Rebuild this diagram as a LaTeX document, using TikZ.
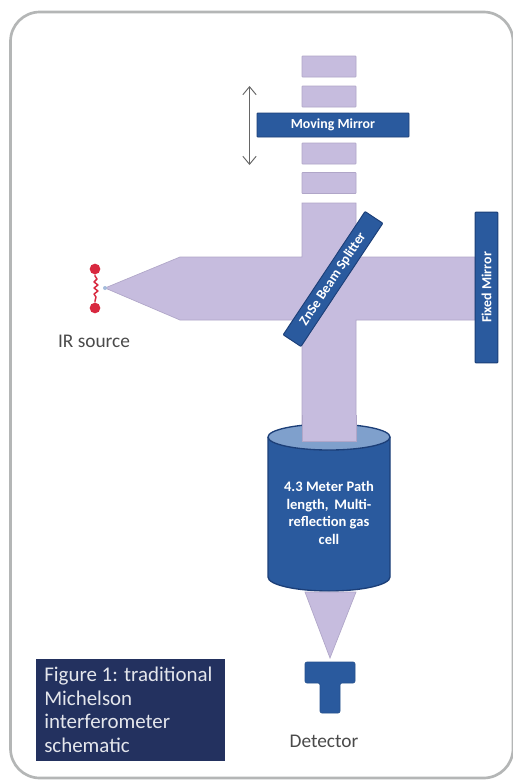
\documentclass[tikz,border=0pt]{standalone}
\usepackage{fontspec}
\setmainfont{Carlito}
\usetikzlibrary{arrows.meta,shapes.geometric}
\definecolor{beam}{HTML}{C6BCDE}
\definecolor{beamedge}{HTML}{B0A6C8}
\definecolor{mirror}{HTML}{2A5A9E}
\definecolor{mirroredge}{HTML}{1C3F78}
\definecolor{celltop}{HTML}{7FA0CC}
\definecolor{capbox}{HTML}{23315F}
\definecolor{frame}{HTML}{B4B6B6}
\definecolor{labeltext}{HTML}{4A4A4A}
\definecolor{srcred}{HTML}{D8283F}
\tikzset{
  x=0.75pt,y=-0.75pt,
  beamblock/.style={fill=beam,draw=beamedge,line width=0.6pt,minimum width=40.5pt,minimum height=15.75pt,inner sep=0pt,rounded corners=0.5pt},
  beamshape/.style={fill=beam,draw=beamedge,line width=0.5pt},
  bluebar/.style={fill=mirror,draw=mirroredge,line width=0.7pt,text=white,font=\bfseries\fontsize{10.4}{12}\selectfont,inner sep=0pt,rounded corners=0.6pt,align=center},
  plainlabel/.style={text=labeltext,font=\fontsize{14.5}{16}\selectfont,inner sep=0pt},
  captiontext/.style={text=white!88!capbox,font=\fontsize{15.7}{17.8}\selectfont,inner sep=0pt,align=left,anchor=north west},
  celltext/.style={text=white,font=\bfseries\fontsize{10.9}{13.3}\selectfont,inner sep=0pt,align=center},
  srcdot/.style={circle,fill=srcred,draw=none,minimum size=8pt,inner sep=0pt},
}
\begin{document}
\begin{tikzpicture}
\useasboundingbox (0,0) rectangle (512,782);
\fill[white] (0,0) rectangle (512,782);
% frame
\draw[frame,line width=2pt,rounded corners=22pt] (10.5,12) rectangle (513,778);
% beams
\draw[beamshape] (302,203) -- (356,203) -- (356,257) -- (475,257) -- (475,320) -- (356,320) -- (356,441) -- (302,441) -- (302,320) -- (180,320) -- (105,288) -- (180,257) -- (302,257) -- cycle;
\node[beamblock] (b1) at (329,66.5) {};
\node[beamblock] (b2) at (329,96.5) {};
\node[beamblock] (b3) at (329,153.5) {};
\node[beamblock] (b4) at (329,183) {};
% moving mirror
\node[bluebar,minimum width=114pt,minimum height=18pt] (moving) at (333,125) {Moving Mirror};
\coordinate (arrtop) at (249.5,86);
\coordinate (arrbot) at (249.5,165);
\draw[{Straight Barb[length=6pt,width=10pt]}-{Straight Barb[length=6pt,width=10pt]},draw=black!60,line width=0.7pt] (arrtop) -- (arrbot);
% beam splitter
\node[bluebar,rotate=56.4,minimum width=111pt,minimum height=16pt] (splitter) at (333,279) {ZnSe Beam Splitter};
% fixed mirror
\node[bluebar,rotate=90,minimum width=113pt,minimum height=17pt] (fixed) at (486.5,287.5) {Fixed Mirror};
% source
\node[srcdot] (s1) at (95,269) {};
\node[srcdot] (s2) at (95,308) {};
\draw[srcred,line width=1.1pt,line join=round] (s1) -- (95,276) -- (97,279) -- (94,282) -- (98,285) -- (94,288) -- (98,291) -- (94,294) -- (96,297) -- (95,301) -- (s2);
\fill[celltop!70!white] (105,288) circle[radius=2];
% gas cell
\fill[mirror] (268,437) -- (268,577) arc[start angle=180,end angle=360,x radius=61,y radius=-14] -- (390,437) -- cycle;
\draw[mirroredge,line width=1pt] (268,437) -- (268,577) arc[start angle=180,end angle=360,x radius=61,y radius=-14] -- (390,437);
\fill[celltop,draw=mirroredge,line width=1pt] (329,437) ellipse[x radius=61,y radius=13];
\fill[beam] (302,415) rectangle (356,441);
\draw[beamedge,line width=0.5pt] (302,415) -- (302,441) -- (356,441) -- (356,415);
\node[celltext] (celllabel) at (329,513) {4.3 Meter Path\\length,\, Multi-\\reflection gas\\cell};
% cone
\draw[beamshape] (305,592) -- (356,592) -- (330,658) -- cycle;
% detector
\draw[fill=mirror,draw=mirror!90!black,line width=0.5pt,rounded corners=1.5pt] (305,662) -- (355,662) -- (355,683) -- (340,683) -- (340,713) -- (320,713) -- (320,683) -- (305,683) -- cycle;
% labels
\node[plainlabel] (irlabel) at (94,341) {IR source};
\node[plainlabel] (detlabel) at (324,741) {Detector};
% caption
\fill[capbox] (36,659) rectangle (225,761);
\node[captiontext] (caption) at (44,666.5) {Figure 1: traditional\\Michelson\\interferometer\\schematic};
\end{tikzpicture}
\end{document}
